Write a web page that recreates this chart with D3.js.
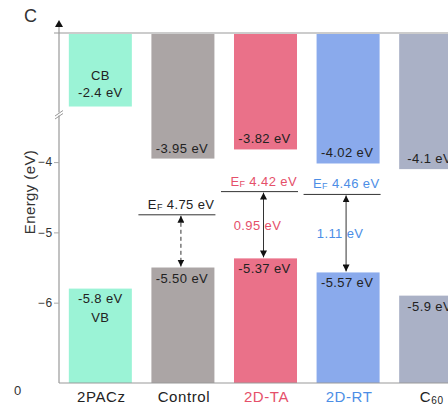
<!DOCTYPE html>
<html>
<head>
<meta charset="utf-8">
<script src="https://cdn.jsdelivr.net/npm/d3@7"></script>
<style>
  body { margin: 0; background: #fff; }
  svg { display: block; font-family: "Liberation Sans", Arial, sans-serif; }
</style>
</head>
<body>
<div id="chart"></div>
<script>
// energy levels per layer (eV)
const layers = ['2PACz', 'Control', '2D-TA', '2D-RT', 'C60'];
const cbValues = [-2.4, -3.95, -3.82, -4.02, -4.1];
const vbValues = [-5.8, -5.50, -5.37, -5.57, -5.9];
const labelDigits = [1, 2, 2, 2, 1];
const fermiLayers = ['Control', '2D-TA', '2D-RT'];
const fermiValues = [-4.75, -4.42, -4.46];
const gapLabels = [null, 0.95, 1.11];
const energyTicks = [-4, -5, -6];

const barColors = ['#9bf3d6', '#aba5a5', '#ea7189', '#8aaaec', '#aab1c6'];
const textColors = ['#222', '#222', '#e5506a', '#4c8ee6', '#222'];

const width = 448;
const height = 406;
const axisX = 59;
const topY = 33;
const bottomY = 383;

const svg = d3.select('#chart')
  .append('svg')
  .attr('width', width)
  .attr('height', height);

// broken axis: lower part is linear, upper part squeezed above the break
const y = d3.scaleLinear()
  .domain([-7.143, -3.33, -2.52, -1.36])
  .range([bottomY, 115, 115, topY]);

const x = d3.scaleBand()
  .domain(layers)
  .range([axisX, 472])
  .paddingInner(0.237)
  .paddingOuter(0.119);

const colorOf = (name) => textColors[layers.indexOf(name)];

// arrow head marker
svg.append('defs')
  .append('marker')
  .attr('id', 'head')
  .attr('viewBox', '0 0 8 8')
  .attr('refX', 8)
  .attr('refY', 4)
  .attr('markerWidth', 7)
  .attr('markerHeight', 7)
  .attr('markerUnits', 'userSpaceOnUse')
  .attr('orient', 'auto-start-reverse')
  .append('path')
  .attr('d', 'M0,0L8,4L0,8Z')
  .attr('fill', '#111');

// bars
const rows = layers.map((name, i) => ({
  name, cb: cbValues[i], vb: vbValues[i], digits: labelDigits[i], color: barColors[i]
}));

svg.append('g').selectAll('rect').data(rows).join('rect')
  .attr('x', (d) => x(d.name))
  .attr('width', x.bandwidth())
  .attr('y', topY + 1)
  .attr('height', (d) => y(d.cb) - topY - 1)
  .attr('fill', (d) => d.color);

svg.append('g').selectAll('rect').data(rows).join('rect')
  .attr('x', (d) => x(d.name))
  .attr('width', x.bandwidth())
  .attr('y', (d) => y(d.vb))
  .attr('height', (d) => bottomY - y(d.vb))
  .attr('fill', (d) => d.color);

// frame lines
svg.append('line')
  .attr('x1', 54).attr('x2', width)
  .attr('y1', topY).attr('y2', topY)
  .attr('stroke', '#999').attr('stroke-width', 1.2);
svg.append('line')
  .attr('x1', axisX).attr('x2', width)
  .attr('y1', bottomY).attr('y2', bottomY)
  .attr('stroke', '#999').attr('stroke-width', 1.2);
svg.append('line')
  .attr('x1', axisX).attr('x2', axisX)
  .attr('y1', 26).attr('y2', bottomY)
  .attr('stroke', '#999').attr('stroke-width', 1.2);
svg.append('path')
  .attr('d', `M${axisX - 4},27L${axisX},20L${axisX + 4},27Z`)
  .attr('fill', '#111');

// axis break
svg.append('rect')
  .attr('x', axisX - 2).attr('y', 112.5).attr('width', 4).attr('height', 3)
  .attr('fill', '#fff');
svg.append('path')
  .attr('d', `M${axisX - 4},116L${axisX + 4},110.5M${axisX - 4},119L${axisX + 4},113.5`)
  .attr('stroke', '#999').attr('stroke-width', 1).attr('fill', 'none');

// ticks
const yAxis = svg.append('g')
  .attr('transform', `translate(${axisX},0)`)
  .call(d3.axisLeft(y).tickValues(energyTicks).tickSize(5).tickSizeOuter(0).tickFormat(d3.format('d')));
yAxis.select('.domain').remove();
yAxis.selectAll('.tick line').attr('stroke', '#aaa');
yAxis.selectAll('.tick text')
  .attr('fill', '#333')
  .attr('x', -6)
  .style('font-size', '12px')
  .style('letter-spacing', '0.8px')
  .style('font-family', '"Liberation Sans", Arial, sans-serif');

svg.append('text')
  .attr('transform', 'translate(35,192) rotate(-90)')
  .attr('text-anchor', 'middle')
  .attr('fill', '#333')
  .style('font-size', '15px')
  .style('letter-spacing', '0.4px')
  .text('Energy (eV)');

svg.append('text')
  .attr('x', 24).attr('y', 22)
  .attr('fill', '#333')
  .style('font-size', '18px')
  .text('C');

svg.append('text')
  .attr('x', 14).attr('y', 395)
  .attr('fill', '#333')
  .style('font-size', '13px')
  .text('0');

// bar value labels
const fmt = (v, digits) => `${v.toFixed(digits)} eV`;
const labelStyle = (sel) => sel
  .attr('fill', '#222')
  .attr('text-anchor', 'middle')
  .style('font-size', '13px')
  .style('letter-spacing', '0.4px');

svg.append('g').selectAll('text').data(rows.slice(1)).join('text')
  .call(labelStyle)
  .attr('x', (d) => x(d.name) + x.bandwidth() / 2 - 1)
  .attr('y', (d) => y(d.cb) - 6)
  .text((d) => fmt(d.cb, d.digits));

svg.append('g').selectAll('text').data(rows.slice(1)).join('text')
  .call(labelStyle)
  .attr('x', (d) => x(d.name) + x.bandwidth() / 2 - 1)
  .attr('y', (d) => y(d.vb) + 15)
  .text((d) => fmt(d.vb, d.digits));

// 2PACz has CB / VB captions
const hole = rows[0];
const hx = x(hole.name) + x.bandwidth() / 2;
svg.append('text').call(labelStyle).attr('x', hx).attr('y', y(hole.cb) - 27).text('CB');
svg.append('text').call(labelStyle).attr('x', hx).attr('y', y(hole.cb) - 10).text(fmt(hole.cb, hole.digits));
svg.append('text').call(labelStyle).attr('x', hx).attr('y', y(hole.vb) + 14).text(fmt(hole.vb, hole.digits));
svg.append('text').call(labelStyle).attr('x', hx).attr('y', y(hole.vb) + 33).text('VB');

// Fermi levels and gap arrows
const fermi = fermiLayers.map((name, i) => ({
  name, ef: fermiValues[i], vb: vbValues[layers.indexOf(name)], gap: gapLabels[i], color: colorOf(name)
}));

const fg = svg.append('g');
fg.selectAll('line.ef').data(fermi).join('line')
  .attr('class', 'ef')
  .attr('x1', (d) => x(d.name) - 13)
  .attr('x2', (d) => x(d.name) + x.bandwidth() + 1)
  .attr('y1', (d) => y(d.ef))
  .attr('y2', (d) => y(d.ef))
  .attr('stroke', '#333')
  .attr('stroke-width', 1);

const efText = fg.selectAll('text.ef').data(fermi).join('text')
  .attr('class', 'ef')
  .attr('x', (d) => x(d.name) + x.bandwidth())
  .attr('y', (d) => y(d.ef) - 6)
  .attr('text-anchor', 'end')
  .attr('fill', (d) => d.color)
  .style('font-size', '13px')
  .style('letter-spacing', '0.4px');
efText.append('tspan').text('E');
efText.append('tspan').attr('dy', 1).style('font-size', '9px').text('F');
efText.append('tspan').attr('dy', -1).text((d) => ` ${Math.abs(d.ef).toFixed(2)} eV`);

fg.selectAll('line.gap').data(fermi).join('line')
  .attr('class', 'gap')
  .attr('x1', (d) => x(d.name) + x.bandwidth() / 2 - 2)
  .attr('x2', (d) => x(d.name) + x.bandwidth() / 2 - 2)
  .attr('y1', (d) => y(d.ef) + 1)
  .attr('y2', (d) => y(d.vb) - 1)
  .attr('stroke', '#333')
  .attr('stroke-width', 1)
  .attr('stroke-dasharray', (d) => (d.gap == null ? '4,3' : null))
  .attr('marker-start', 'url(#head)')
  .attr('marker-end', 'url(#head)');

fg.selectAll('text.gap').data(fermi.filter((d) => d.gap != null)).join('text')
  .attr('class', 'gap')
  .attr('x', (d) => x(d.name) + x.bandwidth() / 2 - 8)
  .attr('y', (d) => (y(d.ef) + y(d.vb)) / 2 + 5)
  .attr('text-anchor', 'middle')
  .attr('fill', (d) => d.color)
  .style('font-size', '13px')
  .style('letter-spacing', '0.4px')
  .text((d) => `${d.gap.toFixed(2)} eV`);

// category labels
const cat = svg.append('g').selectAll('text').data(layers).join('text')
  .attr('x', (d) => x(d) + x.bandwidth() / 2 + 1)
  .attr('y', 402)
  .attr('text-anchor', 'middle')
  .attr('fill', (d) => colorOf(d))
  .style('font-size', '15px')
  .style('letter-spacing', '0.6px');
cat.filter((d) => d !== 'C60').text((d) => d);
const c60 = cat.filter((d) => d === 'C60');
c60.append('tspan').text('C');
c60.append('tspan').attr('dy', 2).style('font-size', '10px').text('60');
</script>
</body>
</html>
